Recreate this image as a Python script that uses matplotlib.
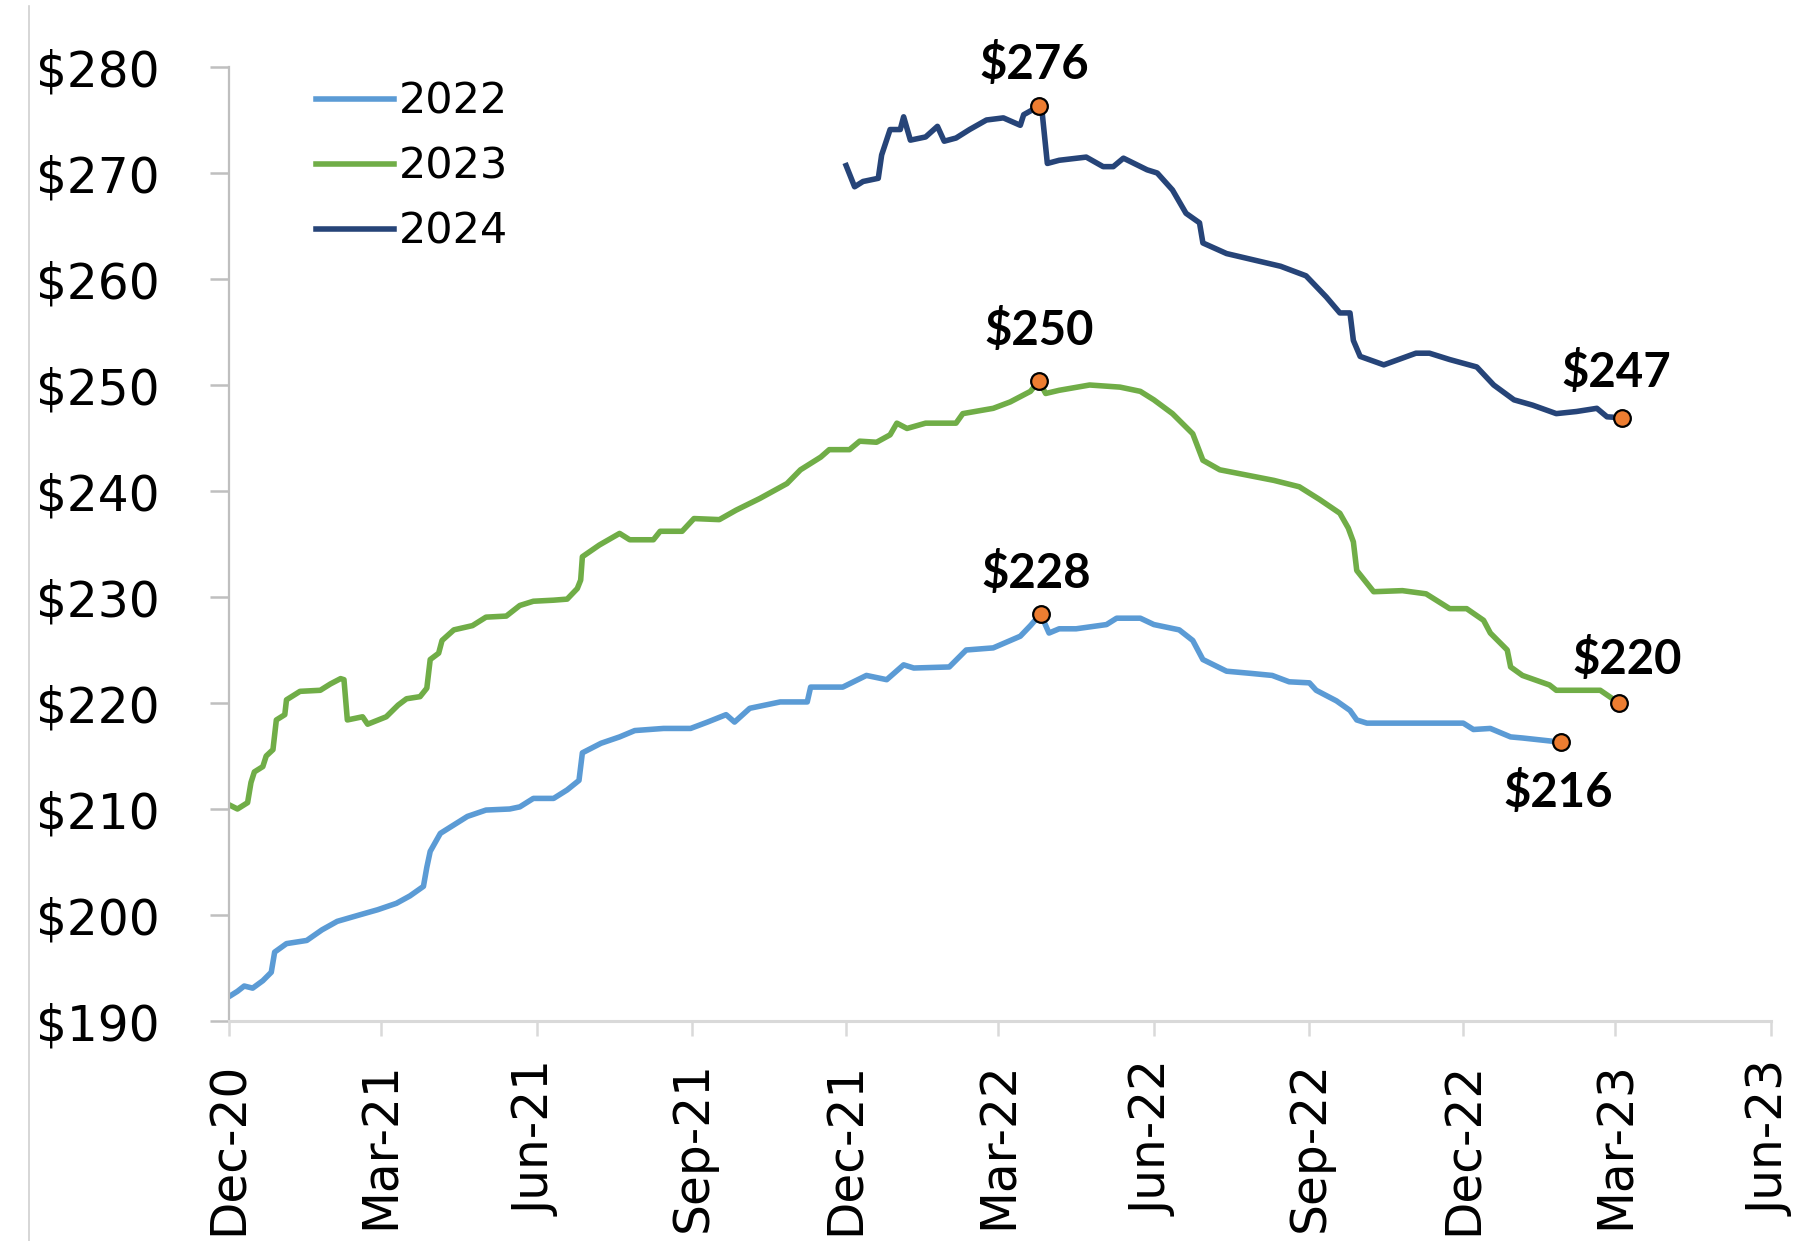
import pandas as pd
import matplotlib.pyplot as plt
import matplotlib.dates as mdates
from matplotlib.lines import Line2D

# days counted from 2020-12-01, prices in $
start = pd.Timestamp('2020-12-01')

days_2022 = [0, 5, 9, 14, 20, 25, 27, 34, 46, 55, 64, 77, 88, 99, 107, 115, 117, 119, 125, 133,
             141, 152, 166, 172, 180, 192, 200, 207, 209, 220, 231, 240, 257, 273, 283, 294, 299,
             308, 326, 342, 344, 363, 377, 389, 399, 405, 426, 436, 452, 468, 474, 480, 485, 491,
             501, 519, 525, 539, 547, 562, 570, 576, 590, 604, 617, 627, 639, 643, 655, 663, 667,
             673, 700, 730, 736, 746, 758, 765, 788]
price_2022 = [192.3, 192.8, 193.3, 193.1, 193.8, 194.6, 196.5, 197.3, 197.6, 198.6, 199.4, 200.0,
              200.5, 201.1, 201.8, 202.7, 204.5, 206.0, 207.7, 208.5, 209.3, 209.9, 210.0, 210.2,
              211.0, 211.0, 211.8, 212.7, 215.3, 216.2, 216.8, 217.4, 217.6, 217.6, 218.2, 218.9,
              218.2, 219.5, 220.1, 220.1, 221.5, 221.5, 222.6, 222.2, 223.6, 223.3, 223.4, 225.0,
              225.2, 226.3, 227.3, 228.4, 226.6, 227.0, 227.0, 227.4, 228.0, 228.0, 227.4, 226.9,
              225.9, 224.1, 223.0, 222.8, 222.6, 222.0, 221.9, 221.2, 220.2, 219.3, 218.4, 218.1,
              218.1, 218.1, 217.5, 217.6, 216.8, 216.7, 216.3]

days_2023 = [0, 5, 11, 13, 15, 20, 22, 26, 28, 33, 34, 42, 54, 60, 66, 68, 70, 79, 82, 93, 100,
             105, 113, 117, 119, 124, 126, 133, 144, 152, 164, 172, 180, 192, 200, 206, 208, 209,
             219, 231, 237, 251, 255, 268, 275, 290, 300, 314, 330, 338, 350, 355, 367, 373, 383,
             391, 395, 401, 412, 430, 434, 452, 462, 474, 479, 483, 491, 509, 527, 539, 547, 558,
             570, 576, 586, 602, 618, 633, 645, 657, 662, 665, 667, 677, 694, 708, 722, 732, 742,
             746, 756, 758, 765, 781, 785, 811, 822]
price_2023 = [210.4, 210.0, 210.6, 212.5, 213.5, 214.0, 215.0, 215.6, 218.4, 218.9, 220.3, 221.1,
              221.2, 221.8, 222.3, 222.2, 218.4, 218.7, 218.0, 218.7, 219.8, 220.4, 220.6, 221.4,
              224.1, 224.7, 225.9, 226.9, 227.3, 228.1, 228.2, 229.2, 229.6, 229.7, 229.8, 230.8,
              231.6, 233.8, 234.9, 236.0, 235.4, 235.4, 236.2, 236.2, 237.4, 237.3, 238.2, 239.3,
              240.7, 242.0, 243.2, 243.9, 243.9, 244.7, 244.6, 245.3, 246.4, 245.9, 246.4, 246.4,
              247.3, 247.8, 248.4, 249.4, 250.4, 249.2, 249.5, 250.0, 249.8, 249.4, 248.6, 247.3,
              245.4, 242.9, 242.0, 241.5, 241.0, 240.4, 239.2, 237.9, 236.5, 235.2, 232.5, 230.5,
              230.6, 230.3, 228.9, 228.9, 227.8, 226.6, 225.0, 223.4, 222.6, 221.7, 221.2, 221.2,
              220.0]

days_2024 = [365, 370, 375, 384, 386, 391, 397, 399, 403, 412, 419, 423, 430, 438, 448, 458, 468,
             470, 479, 481, 484, 491, 507, 517, 523, 529, 543, 549, 558, 566, 574, 576, 590, 606,
             622, 637, 649, 657, 663, 665, 669, 683, 702, 710, 722, 738, 748, 760, 771, 785, 797,
             809, 815, 824]
price_2024 = [270.7, 268.7, 269.2, 269.5, 271.7, 274.1, 274.1, 275.3, 273.1, 273.4, 274.4, 273.0,
              273.3, 274.1, 275.0, 275.2, 274.5, 275.5, 276.3, 275.6, 270.9, 271.2, 271.5, 270.6,
              270.6, 271.4, 270.3, 270.0, 268.4, 266.2, 265.3, 263.4, 262.4, 261.8, 261.2, 260.3,
              258.3, 256.8, 256.8, 254.2, 252.7, 251.9, 253.0, 253.0, 252.4, 251.7, 250.0, 248.6,
              248.1, 247.3, 247.5, 247.8, 247.0, 246.9]

series_names = ['2022', '2023', '2024']
series_colors = ['#5B9BD5', '#70AD47', '#264478']


def to_dates(days):
    return [start + pd.Timedelta(days=d) for d in days]


fig = plt.figure(figsize=(17.95, 12.41), dpi=100)
ax = fig.add_axes([229 / 1795, 1 - 1021 / 1241, (1771 - 229) / 1795, (1021 - 67) / 1241])

all_days = [days_2022, days_2023, days_2024]
all_prices = [price_2022, price_2023, price_2024]
for d, p, name, col in zip(all_days, all_prices, series_names, series_colors):
    ax.plot(to_dates(d), p, color=col, lw=4.0, label=name, solid_joinstyle='round')

# label offsets in points: (peak), (last)
offsets = [((-3, 29), (-2, -36)), ((0, 36), (6, 31)), ((-3, 30), (-4, 33))]
for d, p, off in zip(all_days, all_prices, offsets):
    i_peak = p.index(max(p))
    for i, o in zip([i_peak, len(p) - 1], off):
        x = start + pd.Timedelta(days=d[i])
        ax.plot([x], [p[i]], 'o', ms=12, mfc='#ED7D31', mec='black', mew=1.6, zorder=5)
        ax.annotate(f'${round(p[i])}', (x, p[i]), xytext=o, textcoords='offset points',
                    ha='center', va='center', fontsize=34, fontweight='bold',
                    family='Lato', color='black')

ax.set_xlim(pd.Timestamp('2020-12-01'), pd.Timestamp('2023-06-01'))
ax.set_ylim(190, 280)
ax.set_yticks(range(190, 281, 10))
ax.yaxis.set_major_formatter(plt.FuncFormatter(lambda v, pos: f'${v:.0f}'))
ax.xaxis.set_major_locator(mdates.MonthLocator(bymonth=[3, 6, 9, 12]))
ax.xaxis.set_major_formatter(mdates.DateFormatter('%b-%y'))

for s in ['top', 'right']:
    ax.spines[s].set_visible(False)
ax.spines['left'].set_color('#BFBFBF')
ax.spines['left'].set_linewidth(1.6)
ax.spines['bottom'].set_color('#D9D9D9')
ax.spines['bottom'].set_linewidth(2.2)
ax.tick_params(axis='y', length=14, width=1.8, color='#BFBFBF', pad=36, labelsize=35)
ax.tick_params(axis='x', length=11, width=1.8, color='#D9D9D9', pad=18, labelsize=35,
               labelrotation=90)

ax.legend(loc='upper left', bbox_to_anchor=(316 / 1795, 1 - 81 / 1241),
          bbox_transform=fig.transFigure, frameon=False, fontsize=31,
          handlelength=1.8, handletextpad=0.12, labelspacing=0.53, borderpad=0,
          borderaxespad=0)

# thin border line on the left edge of the picture
fig.add_artist(Line2D([29 / 1795, 29 / 1795], [0, 1 - 6 / 1241], color='#D0D0D0', lw=1.2))

fig.savefig('out.png', dpi=100, facecolor='white')
